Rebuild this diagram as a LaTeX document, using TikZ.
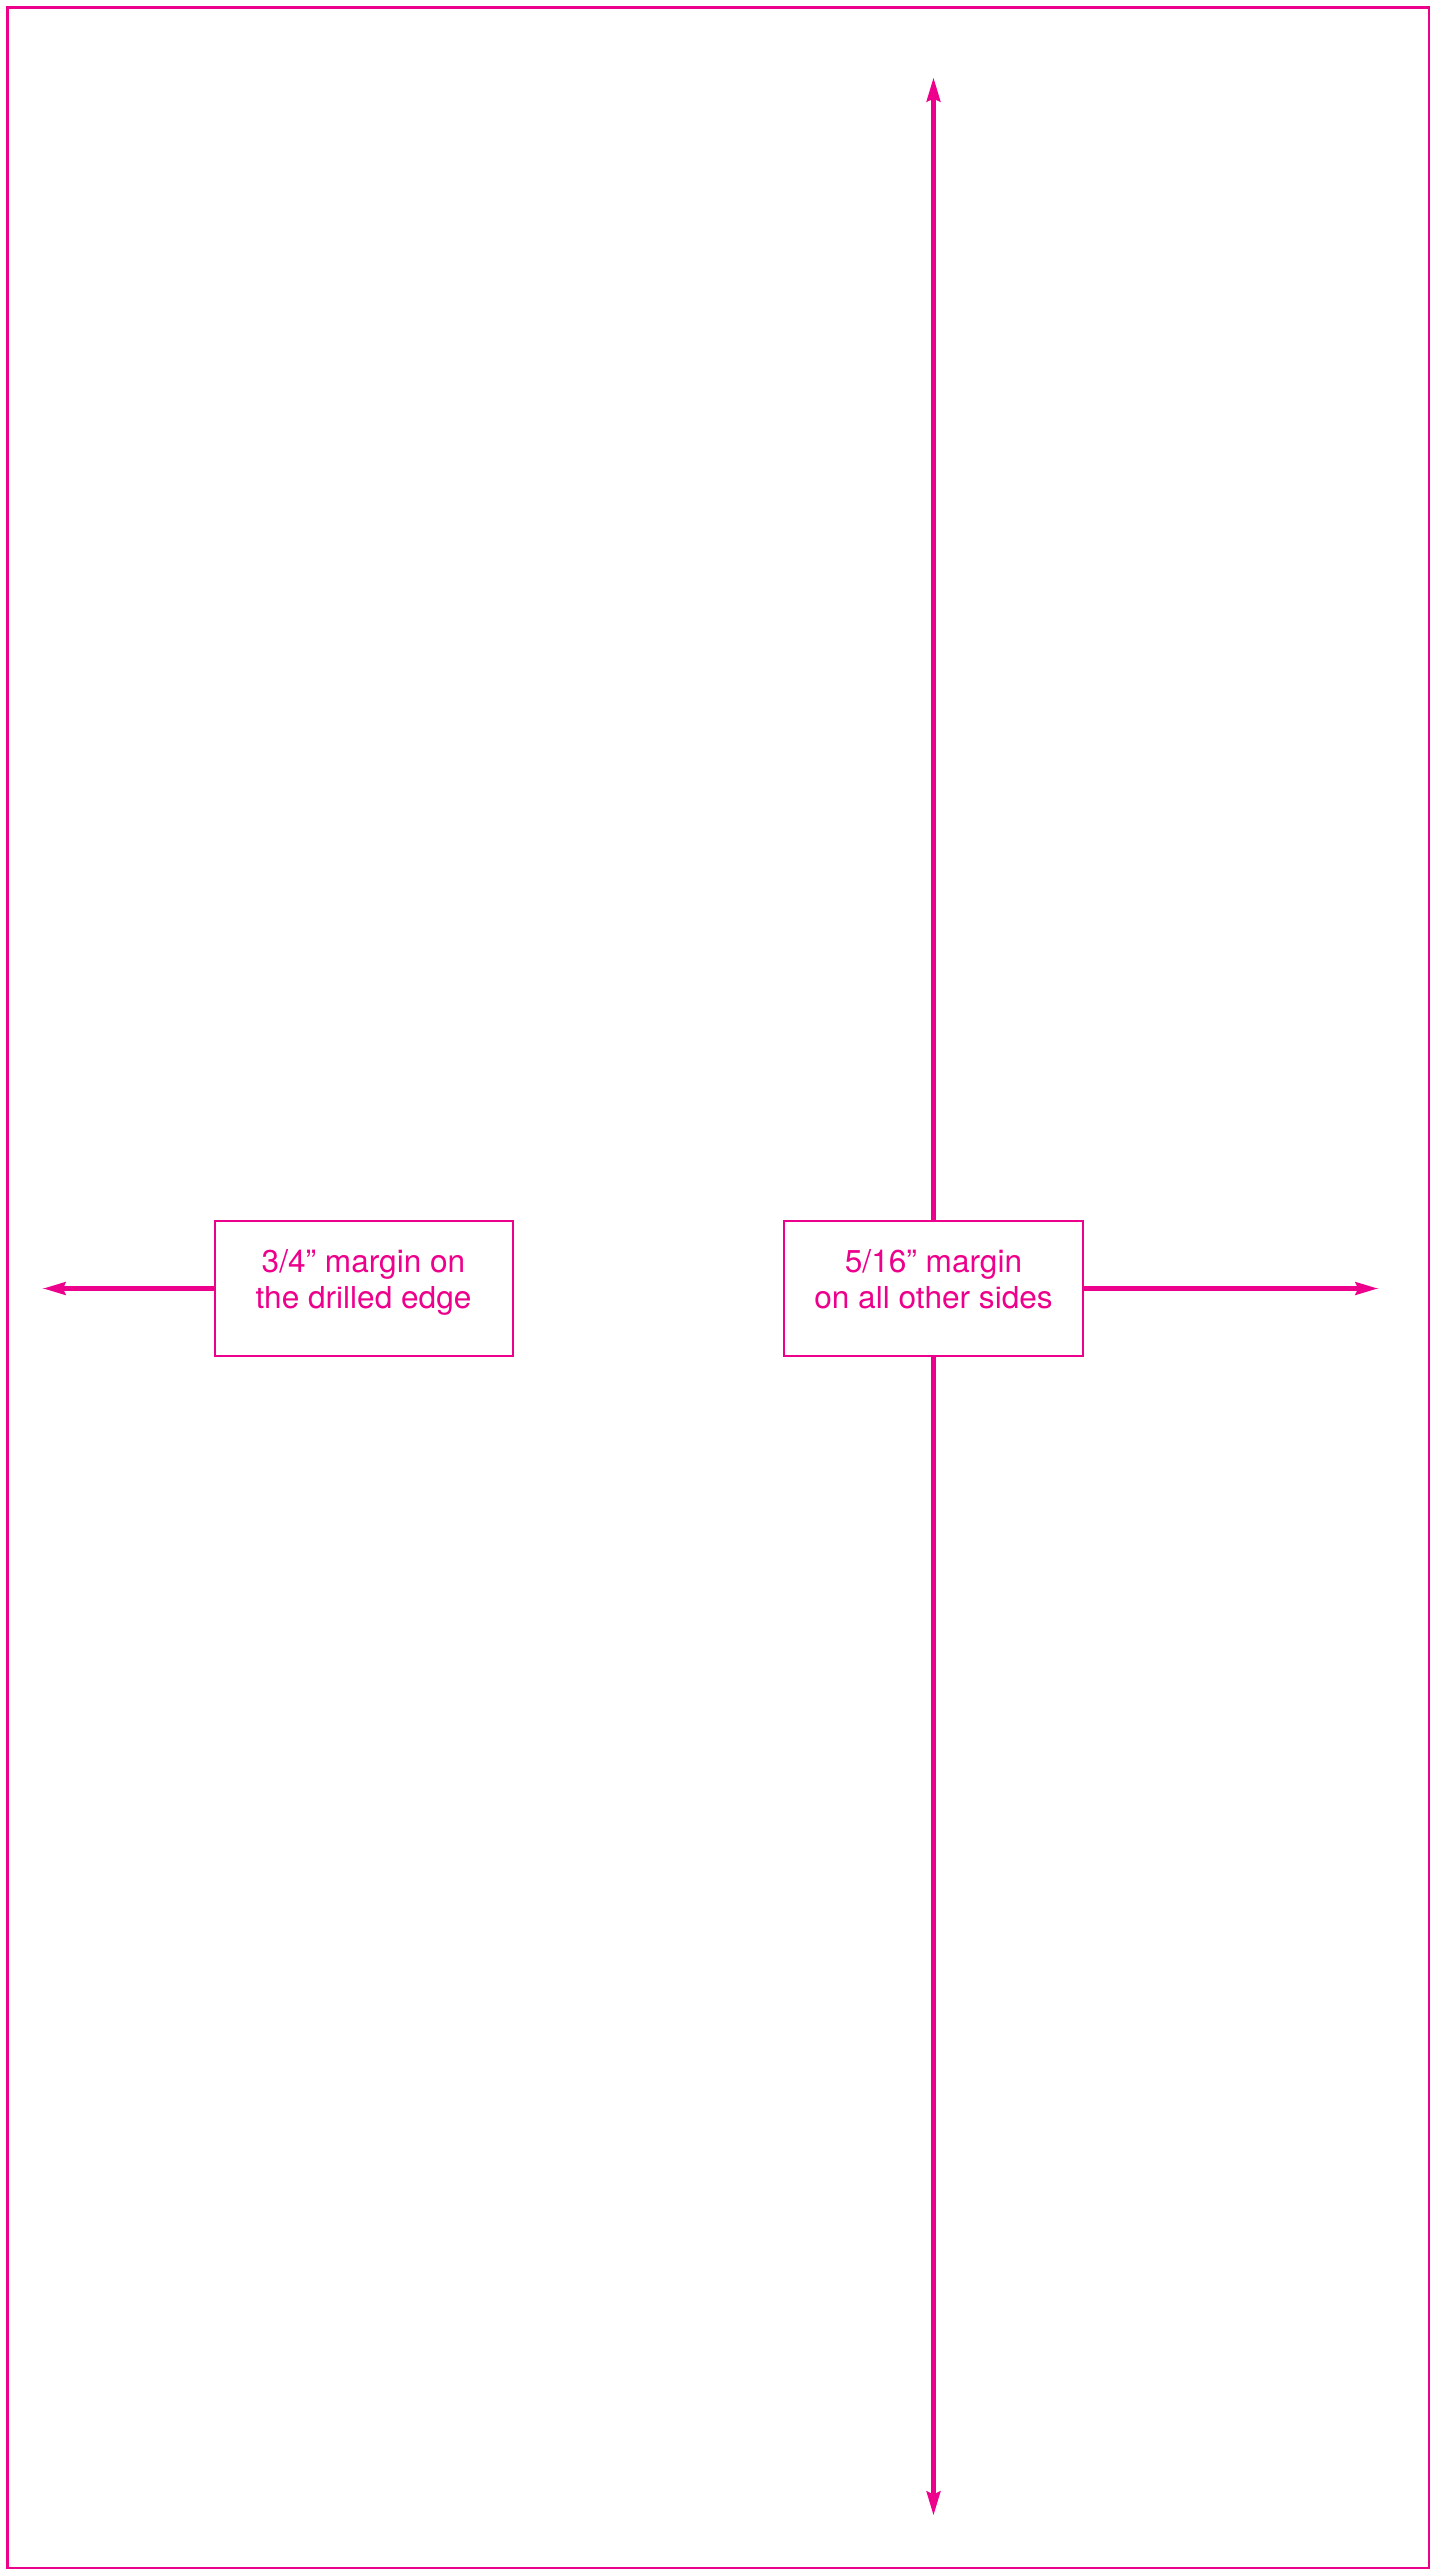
\documentclass[tikz,border=0pt]{standalone}
\usepackage{fontspec}
\setmainfont{TeX Gyre Heros}
\usetikzlibrary{arrows.meta}
\definecolor{mag}{RGB}{236,0,140}
\begin{document}
\begin{tikzpicture}[x=0.5pt,y=-0.5pt,
  box/.style={draw=mag,line width=1.2pt,minimum width=149.5pt,minimum height=68pt,inner sep=0pt},
  lbl/.style={text=mag,anchor=base,inner sep=0pt,font=\fontsize{15.8pt}{18.5pt}\selectfont},
  arr/.style={draw=mag,line width=2.8pt,-{Stealth[length=12pt,width=6.5pt,inset=1.2pt]}}]
\useasboundingbox (0,0) rectangle (1437,2581);
\fill[white] (0,0) rectangle (1437,2581);
\draw[mag,line width=1.4pt] (7.5,7.5) rectangle (1432,2573);
\node[box] (L) at (364.5,1291) {};
\node[box] (R) at (935.5,1291) {};
\node[lbl] (L1) at (364.5,1274) {3/4” margin on};
\node[lbl] (L2) at (364.5,1311) {the drilled edge};
\node[lbl] (R1) at (935.5,1274) {5/16” margin};
\node[lbl] (R2) at (935.5,1311) {on all other sides};
\coordinate (T) at (935.5,77);
\coordinate (B) at (935.5,2521);
\coordinate (E) at (1383,1291);
\coordinate (W) at (41,1291);
\draw[arr] (R.north) -- (T);
\draw[arr] (R.south) -- (B);
\draw[arr] (R.east) -- (E);
\draw[arr] (L.west) -- (W);
\end{tikzpicture}
\end{document}
